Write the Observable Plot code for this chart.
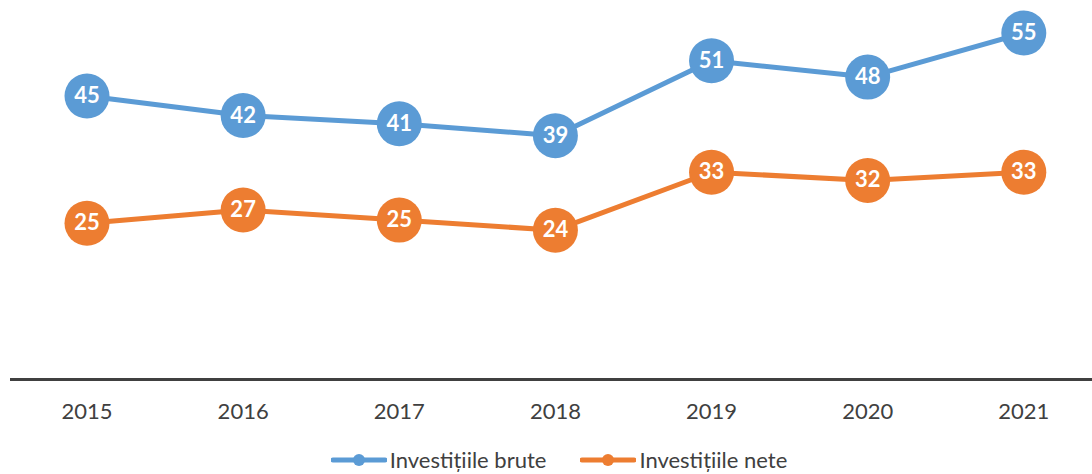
<!DOCTYPE html>
<html>
<head>
<meta charset="utf-8">
<script src="https://cdn.jsdelivr.net/npm/d3@7"></script>
<script src="https://cdn.jsdelivr.net/npm/@observablehq/plot@0.6"></script>
<style>
  html, body { margin: 0; padding: 0; background: #fff; }
  #chart { width: 1092px; }
  .legend { display: flex; justify-content: center; align-items: center; gap: 34px; height: 42px; padding-top: 14px; box-sizing: border-box;
            font-family: Lato, "Open Sans", sans-serif; font-size: 22px; line-height: 26px; color: #404040; padding-left: 26px; }
  .item { display: flex; align-items: center; gap: 3px; }
</style>
</head>
<body>
<div id="chart"></div>
<script>
const years = [2015, 2016, 2017, 2018, 2019, 2020, 2021];
const seriesNames = ["Investițiile brute", "Investițiile nete"];
const colors = ["#5B9BD5", "#ED7D31"];
const brute = [45.0, 41.9, 40.6, 38.7, 50.6, 48.0, 55.0];
const bruteLabels = ["45", "42", "41", "39", "51", "48", "55"];
const nete = [24.8, 26.9, 25.3, 23.7, 32.9, 31.6, 32.9];
const neteLabels = ["25", "27", "25", "24", "33", "32", "33"];

const data = [
  ...years.map((yr, i) => ({year: yr, value: brute[i], label: bruteLabels[i], series: seriesNames[0]})),
  ...years.map((yr, i) => ({year: yr, value: nete[i], label: neteLabels[i], series: seriesNames[1]}))
];

const chart = Plot.plot({
  width: 1092,
  height: 432,
  marginLeft: 10,
  marginRight: 0,
  marginTop: 1,
  marginBottom: 53,
  style: {fontFamily: "Lato, 'Open Sans', sans-serif", background: "#fff"},
  x: {type: "linear", domain: [2014.51, 2021.44], axis: null},
  y: {domain: [0, 60], axis: null},
  color: {domain: seriesNames, range: colors},
  marks: [
    Plot.ruleY([0], {stroke: "#404040", strokeWidth: 3}),
    Plot.line(data, {x: "year", y: "value", z: "series", stroke: "series", strokeWidth: 5}),
    Plot.dot(data, {x: "year", y: "value", r: 22.5, fill: "series"}),
    Plot.text(data, {x: "year", y: "value", text: "label", fill: "#fff", fontWeight: "bold", fontSize: 22}),
    Plot.axisX({ticks: years, tickFormat: d => String(d), tickSize: 0, tickPadding: 24, fontSize: 22, fill: "#404040", label: null})
  ]
});
document.getElementById("chart").appendChild(chart);

const legend = document.createElement("div");
legend.className = "legend";
seriesNames.forEach((name, i) => {
  const item = document.createElement("div");
  item.className = "item";
  item.innerHTML = `<svg width="56" height="14"><line x1="2" x2="54" y1="7" y2="7" stroke="${colors[i]}" stroke-width="5" stroke-linecap="round"/><circle cx="28" cy="7" r="6" fill="${colors[i]}"/></svg><span>${name}</span>`;
  legend.appendChild(item);
});
document.body.appendChild(legend);
</script>
</body>
</html>
